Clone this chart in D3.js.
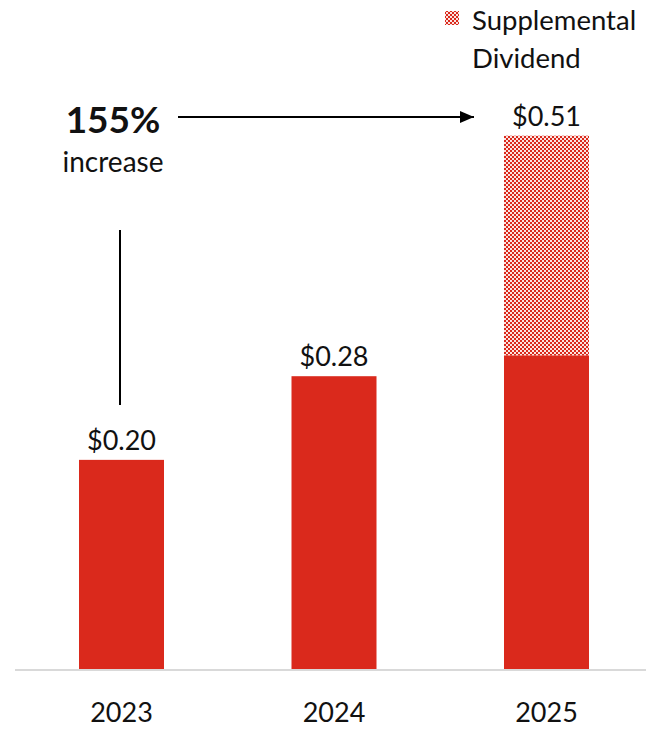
<!DOCTYPE html>
<html>
<head>
<meta charset="utf-8">
<script src="https://cdn.jsdelivr.net/npm/d3@7/dist/d3.min.js"></script>
<style>
  html, body { margin: 0; padding: 0; background: #fff; }
  svg { display: block; }
  text { font-family: Lato, "Open Sans", sans-serif; fill: #111; }
</style>
</head>
<body>
<svg id="chart" width="646" height="735"></svg>
<script>
// Annual dividend per share, split into regular and supplemental parts
const years = ["2023", "2024", "2025"];
const regular = [0.20, 0.28, 0.30];
const supplemental = [0, 0, 0.21];
const totalLabels = ["$0.20", "$0.28", "$0.51"];
const legendLines = ["Supplemental", "Dividend"];
const growthLabel = ["155%", "increase"];

const RED = "#da291c";
const svg = d3.select("#chart");
const W = 646, H = 735;
const baseY = 669;

// checkerboard fill for the supplemental segment
const defs = svg.append("defs");
const pat = defs.append("pattern")
  .attr("id", "checker")
  .attr("patternUnits", "userSpaceOnUse")
  .attr("width", 4).attr("height", 4);
pat.append("rect").attr("width", 4).attr("height", 4).attr("fill", "#fbe4e1");
pat.append("rect").attr("x", 0).attr("y", 0).attr("width", 2).attr("height", 2).attr("fill", RED).attr("shape-rendering", "crispEdges");
pat.append("rect").attr("x", 2).attr("y", 2).attr("width", 2).attr("height", 2).attr("fill", RED).attr("shape-rendering", "crispEdges");

const x = d3.scaleBand()
  .domain(years)
  .range([15.25, 652.75])
  .paddingInner(0.6)
  .paddingOuter(0.3);

const y = d3.scaleLinear()
  .domain([0, 0.51])
  .range([baseY, 135.7]);

const rows = years.map((yr, i) => ({
  year: yr, reg: regular[i], sup: supplemental[i],
  total: regular[i] + supplemental[i], label: totalLabels[i]
}));

// regular dividend bars
svg.append("g").selectAll("rect")
  .data(rows).join("rect")
  .attr("x", d => x(d.year))
  .attr("width", x.bandwidth())
  .attr("y", d => y(d.reg))
  .attr("height", d => y(0) - y(d.reg))
  .attr("fill", RED);

// supplemental dividend stacked on top
svg.append("g").selectAll("rect")
  .data(rows.filter(d => d.sup > 0)).join("rect")
  .attr("x", d => x(d.year))
  .attr("width", x.bandwidth())
  .attr("y", d => y(d.total))
  .attr("height", d => y(d.reg) - y(d.total))
  .attr("fill", "url(#checker)");

// baseline
svg.append("line")
  .attr("x1", 15).attr("x2", W)
  .attr("y1", baseY + 1).attr("y2", baseY + 1)
  .attr("stroke", "#d9d9d9").attr("stroke-width", 2);

// category axis labels
const xAxis = d3.axisBottom(x).tickSize(0).tickPadding(0);
const gx = svg.append("g")
  .attr("transform", `translate(0,${baseY})`)
  .call(xAxis);
gx.select(".domain").remove();
gx.selectAll("text")
  .attr("y", 53).attr("dy", 0)
  .style("font-size", "27px")
  .style("font-family", "Lato, sans-serif")
  .attr("fill", "#111");

// value labels above bars
svg.append("g").selectAll("text")
  .data(rows).join("text")
  .attr("x", d => x(d.year) + x.bandwidth() / 2)
  .attr("y", d => y(d.total) - 10)
  .attr("text-anchor", "middle")
  .style("font-size", "27px")
  .text(d => d.label);

// legend
svg.append("rect")
  .attr("x", 445).attr("y", 11)
  .attr("width", 14).attr("height", 14)
  .attr("fill", "url(#checker)");
svg.append("g").selectAll("text")
  .data(legendLines).join("text")
  .attr("x", 472)
  .attr("y", (d, i) => 30 + i * 38)
  .style("font-size", "27.5px")
  .text(d => d);

// growth annotation
svg.append("text")
  .attr("x", 113).attr("y", 133)
  .attr("text-anchor", "middle")
  .style("font-size", "37px")
  .style("font-weight", "bold")
  .text(growthLabel[0]);
svg.append("text")
  .attr("x", 113).attr("y", 172)
  .attr("text-anchor", "middle")
  .style("font-size", "28px")
  .text(growthLabel[1]);

defs.append("marker")
  .attr("id", "arrowhead")
  .attr("viewBox", "0 0 10 10")
  .attr("refX", 10).attr("refY", 5)
  .attr("markerWidth", 14).attr("markerHeight", 12)
  .attr("markerUnits", "userSpaceOnUse")
  .attr("orient", "auto")
  .attr("preserveAspectRatio", "none")
  .append("path").attr("d", "M0,0 L10,5 L0,10 Z").attr("fill", "#000");

svg.append("line")
  .attr("x1", 178).attr("x2", 474)
  .attr("y1", 117).attr("y2", 117)
  .attr("stroke", "#000").attr("stroke-width", 2)
  .attr("marker-end", "url(#arrowhead)");

svg.append("line")
  .attr("x1", 120).attr("x2", 120)
  .attr("y1", 230).attr("y2", 405)
  .attr("stroke", "#000").attr("stroke-width", 2);
</script>
</body>
</html>
